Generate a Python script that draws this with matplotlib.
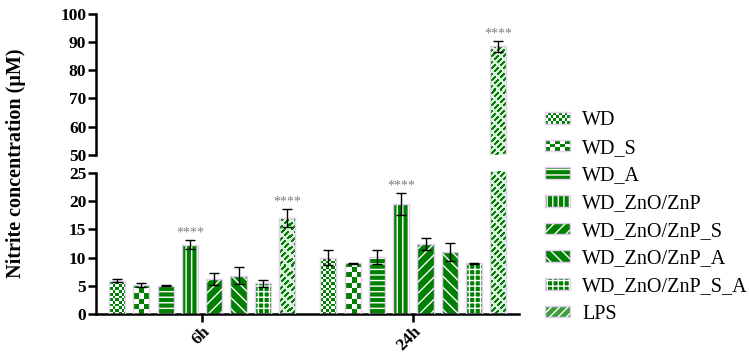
import numpy as np
import matplotlib
matplotlib.use('Agg')
import matplotlib.pyplot as plt
from matplotlib.patches import Rectangle
from matplotlib.colors import ListedColormap
from matplotlib.legend_handler import HandlerBase

# data
times = ['6h', '24h']
groups = ['WD', 'WD_S', 'WD_A', 'WD_ZnO/ZnP', 'WD_ZnO/ZnP_S',
          'WD_ZnO/ZnP_A', 'WD_ZnO/ZnP_S_A', 'LPS']
means_6h = [5.9, 5.1, 5.0, 12.3, 6.2, 6.8, 5.4, 17.0]
err_6h = [0.3, 0.35, 0.1, 0.85, 1.0, 1.45, 0.6, 1.6]
means_24h = [10.0, 9.0, 10.1, 19.5, 12.4, 11.0, 9.0, 88.5]
err_24h = [1.4, 0.1, 1.2, 2.0, 1.0, 1.6, 0.1, 1.8]
signif_6h = ['', '', '', '****', '', '', '', '****']
signif_24h = ['', '', '', '****', '', '', '', '****']

means = np.array([means_6h, means_24h])
errs = np.array([err_6h, err_24h])
signif = [signif_6h, signif_24h]

green = '#008000'
edge = '#e4cdee'
# pattern per group: ('checker', cell px), ('hatch', hatch), ('lps', None)
patterns = [('checker', 2.7), ('checker', 5.3), ('hatch', '---'), ('hatch', '|||'),
            ('hatch', '///'), ('hatch', '\\\\\\'), ('hatch', '+++'), ('lps', None)]

plt.rcParams['font.family'] = ['Liberation Serif', 'DejaVu Serif']
plt.rcParams['hatch.linewidth'] = 1.0

fig = plt.figure(figsize=(7.5, 3.63), dpi=100)
ax_top = fig.add_axes([0.128, 0.574, 0.564, 0.387])
ax_bot = fig.add_axes([0.128, 0.135, 0.564, 0.389])
ax_top.set_ylim(50, 100)
ax_bot.set_ylim(0, 25)

step = 0.115
width = 0.076
xpos = np.arange(len(times))


def pixel_pattern(ax, kind, param):
    bb = ax.get_window_extent()
    nx, ny = int(bb.width) + 2, int(bb.height) + 2
    r, c = np.mgrid[0:ny, 0:nx]
    if kind == 'checker':
        img = ((np.floor(r / param) + np.floor(c / param)) % 2).astype(int)
    else:
        img = (((r + c) % 6 < 3) & ((c - r) % 12 >= 3)).astype(int)
        img = 1 - img
    x0, x1 = ax.get_xlim()
    y0, y1 = ax.get_ylim()
    dx = (x1 - x0) / bb.width
    dy = (y1 - y0) / bb.height
    return img, (x0, x0 + nx * dx, y0, y0 + ny * dy)


for ax in (ax_top, ax_bot):
    ax.set_xlim(-0.502, 1.5)
    ax.set_autoscale_on(False)
    for i, g in enumerate(groups):
        x = xpos + (i - 3.5) * step
        kind, param = patterns[i]
        if kind == 'hatch':
            ax.bar(x, means[:, i], width, color=green, edgecolor='white',
                   linewidth=0, hatch=param, zorder=2)
        else:
            bars = ax.bar(x, means[:, i], width, color=green, linewidth=0, zorder=2)
            img, ext = pixel_pattern(ax, kind, param)
            cmap = ListedColormap([green, 'white']) if kind == 'checker' \
                else ListedColormap([green, '#dcefdc'])
            for b in bars:
                im = ax.imshow(img, cmap=cmap, extent=ext, aspect='auto',
                               interpolation='nearest', zorder=2.5, origin='upper')
                im.set_clip_path(b)
        ax.bar(x, means[:, i], width, fill=False, edgecolor=edge, linewidth=1.0, zorder=3)
        ax.errorbar(x, means[:, i], yerr=errs[:, i], fmt='none', ecolor='black',
                    elinewidth=1, capsize=3.5, capthick=1, zorder=4)
        for t in range(len(times)):
            if signif[t][i]:
                ax.annotate(signif[t][i], (x[t], means[t, i] + errs[t, i]),
                            xytext=(0, 5), textcoords='offset points',
                            ha='center', va='center', color='#808080', fontsize=10)
    ax.spines['top'].set_visible(False)
    ax.spines['right'].set_visible(False)
    ax.spines['left'].set_linewidth(1.8)
    ax.spines['bottom'].set_linewidth(1.8)
    ax.tick_params(axis='both', width=1.8, length=6, pad=1, labelsize=12.5)

ax_top.spines['bottom'].set_visible(False)
ax_top.set_xticks([])
ax_top.set_yticks([50, 60, 70, 80, 90, 100])
ax_bot.set_yticks([0, 5, 10, 15, 20, 25])
ax_bot.set_xticks(xpos)
ax_bot.set_xticklabels(times, rotation=45, ha='right', rotation_mode='anchor',
                       fontweight='bold', fontsize=12.5)
for ax in (ax_top, ax_bot):
    for lab in ax.get_yticklabels():
        lab.set_fontweight('bold')

fig.text(0.021, 1 - 163 / 363, 'Nitrite concentration (\u03bcM)', rotation=90,
         ha='center', va='center', fontsize=14.5, fontweight='bold')


class PatternHandler(HandlerBase):
    def create_artists(self, legend, orig_handle, xdescent, ydescent,
                       width, height, fontsize, trans):
        kind, param = orig_handle.pattern
        x0, y0 = -xdescent, -ydescent
        arts = []
        if kind == 'checker':
            ncol = 9 if param < 4 else 5
            nrow = 4 if param < 4 else 3
            arts.append(Rectangle((x0, y0), width, height, facecolor='white',
                                  linewidth=0, transform=trans))
            cw, ch = width / ncol, height / nrow
            for rr in range(nrow):
                for cc in range(ncol):
                    if (rr + cc) % 2 == 0:
                        arts.append(Rectangle((x0 + cc * cw, y0 + rr * ch), cw, ch,
                                              facecolor=green, linewidth=0,
                                              transform=trans))
        else:
            h = param if kind == 'hatch' else '////'
            fc = green if kind == 'hatch' else '#3c9c3c'
            arts.append(Rectangle((x0, y0), width, height, facecolor=fc,
                                  edgecolor='white', linewidth=0, hatch=h,
                                  transform=trans))
        arts.append(Rectangle((x0, y0), width, height, fill=False, edgecolor=edge,
                              linewidth=1, transform=trans))
        return arts


handles = []
for p in patterns:
    h = Rectangle((0, 0), 1, 1)
    h.pattern = p
    handles.append(h)

fig.legend(handles, groups, handler_map={Rectangle: PatternHandler()},
           loc='upper left', bbox_to_anchor=(545 / 750, 1 - 111 / 363),
           frameon=False, fontsize=14.5, handlelength=1.25, handleheight=0.5,
           labelspacing=0.43, handletextpad=0.6, borderpad=0, borderaxespad=0)

fig.savefig('out.png', dpi=100)
